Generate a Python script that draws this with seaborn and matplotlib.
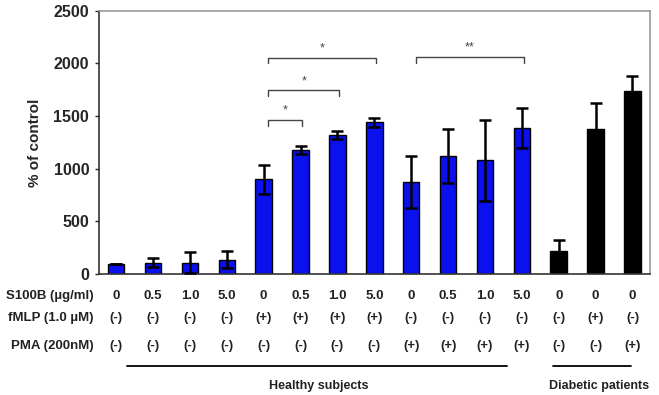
import matplotlib

matplotlib.use("Agg")

import matplotlib.pyplot as plt
import numpy as np
import pandas as pd
import seaborn as sns

sns.set_theme(style="white")
plt.rcParams["font.family"] = ["Liberation Sans", "DejaVu Sans"]

# values (% of control, mean and SD)
S100B = ["0", "0.5", "1.0", "5.0", "0", "0.5", "1.0", "5.0",
         "0", "0.5", "1.0", "5.0", "0", "0", "0"]
FMLP = ["(-)", "(-)", "(-)", "(-)", "(+)", "(+)", "(+)", "(+)",
        "(-)", "(-)", "(-)", "(-)", "(-)", "(+)", "(-)"]
PMA = ["(-)", "(-)", "(-)", "(-)", "(-)", "(-)", "(-)", "(-)",
       "(+)", "(+)", "(+)", "(+)", "(-)", "(-)", "(+)"]
GROUP = ["Healthy"] * 12 + ["Diabetic"] * 3
MEANS = [100, 110, 110, 135, 900, 1180, 1320, 1440,
         875, 1120, 1080, 1385, 215, 1375, 1735]
SDS = [0, 40, 100, 80, 135, 40, 40, 45,
       245, 255, 385, 190, 110, 245, 145]
ROW_LABELS = ["S100B (\u00b5g/ml)", "fMLP (1.0 \u00b5M)", "PMA (200nM)"]
# significance brackets: (left bar, right bar, bracket height, label)
BRACKETS = [(4, 5, 1465, "*"), (4, 6, 1745, "*"), (4, 7, 2055, "*"), (8, 11, 2062, "**")]

PALETTE = {"Healthy": "#0a10ee", "Diabetic": "#000000"}

df = pd.DataFrame({"cond": [str(i) for i in range(len(MEANS))], "value": MEANS, "group": GROUP})

fig = plt.figure(figsize=(6.59, 3.95), dpi=100)
ax = fig.add_axes([0.150, 0.306, 0.836, 0.667])

sns.barplot(data=df, x="cond", y="value", hue="group", palette=PALETTE, dodge=False,
            saturation=1, width=0.45, edgecolor="black", linewidth=1.0, legend=False, ax=ax)
xpos = np.arange(len(MEANS))
ax.errorbar(xpos, MEANS, yerr=SDS, fmt="none", ecolor="black", elinewidth=1.8,
            capsize=4.5, capthick=1.8, zorder=5)

ax.set_xlim(-0.47, 14.47)
ax.set_ylim(0, 2500)
ax.set_yticks([0, 500, 1000, 1500, 2000, 2500])
ax.set_yticklabels([0, 500, 1000, 1500, 2000, 2500], fontsize=11.5, fontweight="bold")
ax.tick_params(axis="y", left=True, length=3, width=1, pad=4)
ax.set_xticks([])
ax.set_xlabel("")
ax.set_ylabel("% of control", fontsize=11, fontweight="bold", labelpad=8)

for side in ["left", "bottom"]:
    ax.spines[side].set_color("#333333")
    ax.spines[side].set_linewidth(1.2)
for side in ["top", "right"]:
    ax.spines[side].set_color("#999999")
    ax.spines[side].set_linewidth(1.2)

# brackets
for left, right, h, lab in BRACKETS:
    x0, x1 = left + 0.12, right + 0.05
    ax.plot([x0, x0, x1, x1], [h - 55, h, h, h - 55], color="#444444", lw=1.0)
    ax.text((x0 + x1) / 2, h + 30, lab, ha="center", va="bottom", fontsize=9, color="#444444")

# condition table under the axis
trans = ax.get_xaxis_transform()
row_y = [-0.084, -0.167, -0.273]
for rows, yy in zip([S100B, FMLP, PMA], row_y):
    for i, txt in enumerate(rows):
        ax.text(i, yy, txt, transform=trans, ha="center", va="center",
                fontsize=9.5, fontweight="bold", color="#222222", clip_on=False)
for lab, yy in zip(ROW_LABELS, row_y):
    ax.text(-0.01, yy, lab, transform=ax.transAxes, ha="right", va="center",
            fontsize=9.5, fontweight="bold", color="#222222", clip_on=False)

ax.plot([0.3, 10.6], [-0.349, -0.349], transform=trans, color="black", lw=1.3, clip_on=False)
ax.plot([11.85, 13.95], [-0.349, -0.349], transform=trans, color="black", lw=1.3, clip_on=False)
ax.text(5.5, -0.423, "Healthy subjects", transform=trans, ha="center", va="center",
        fontsize=9, fontweight="bold", color="#222222", clip_on=False)
ax.text(13.1, -0.423, "Diabetic patients", transform=trans, ha="center", va="center",
        fontsize=9, fontweight="bold", color="#222222", clip_on=False)

fig.savefig("out.png", dpi=100)
